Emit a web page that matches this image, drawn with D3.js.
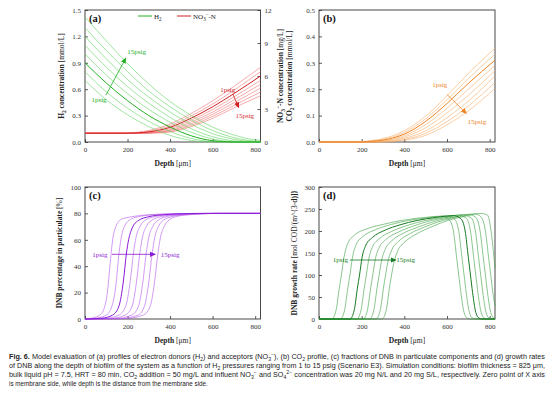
<!DOCTYPE html>
<html>
<head>
<meta charset="utf-8">
<script src="https://cdn.jsdelivr.net/npm/d3@7/dist/d3.min.js"></script>
<style>
body { margin: 0; background: #fff; }
svg text { font-family: "Liberation Serif", "Times New Roman", serif; }
</style>
</head>
<body>
<svg id="fig" width="554" height="394"></svg>
<script>
// values, pressures 1..15 psig (every 2 psig), bold = 5 psig
const pressures = [1, 3, 5, 7, 9, 11, 13, 15];
const boldIndex = 2;
const depthTicks = [0, 200, 400, 600, 800];

// (a) H2 [mmol/L]
const h2Depth = [0, 100, 200, 300, 400, 500, 600, 700, 800, 825];
const h2Curves = [
    [0.70, 0.48, 0.31, 0.175, 0.075, 0.018, 0, 0, 0, 0],
    [0.80, 0.57, 0.385, 0.235, 0.12, 0.04, 0.005, 0, 0, 0],
    [0.90, 0.67, 0.47, 0.30, 0.17, 0.07, 0.015, 0, 0, 0],
    [1.00, 0.76, 0.55, 0.37, 0.225, 0.11, 0.035, 0.003, 0, 0],
    [1.10, 0.85, 0.63, 0.44, 0.28, 0.15, 0.06, 0.012, 0, 0],
    [1.20, 0.945, 0.71, 0.51, 0.34, 0.20, 0.095, 0.03, 0.003, 0.001],
    [1.30, 1.04, 0.80, 0.58, 0.40, 0.25, 0.13, 0.05, 0.01, 0.006],
    [1.42, 1.15, 0.89, 0.66, 0.46, 0.30, 0.17, 0.08, 0.025, 0.02]
];

// (a) NO3-N [mg/L], right axis
const no3Depth = [0, 200, 250, 300, 350, 400, 500, 600, 700, 825];
const no3Curves = [
    [0.8, 0.82, 0.9, 1.05, 1.3, 1.65, 2.6, 3.75, 5.05, 6.8],
    [0.8, 0.81, 0.86, 0.98, 1.18, 1.48, 2.38, 3.45, 4.7, 6.4],
    [0.8, 0.8, 0.83, 0.92, 1.08, 1.34, 2.18, 3.2, 4.4, 6.0],
    [0.8, 0.8, 0.81, 0.87, 1.0, 1.22, 2.0, 2.95, 4.1, 5.6],
    [0.8, 0.8, 0.8, 0.84, 0.94, 1.12, 1.82, 2.72, 3.82, 5.25],
    [0.8, 0.8, 0.8, 0.82, 0.89, 1.04, 1.66, 2.52, 3.56, 4.9],
    [0.8, 0.8, 0.8, 0.81, 0.86, 0.97, 1.52, 2.33, 3.32, 4.55],
    [0.8, 0.8, 0.8, 0.8, 0.83, 0.91, 1.4, 2.15, 3.1, 4.2]
];

// (b) CO2 [mmol/L]
const co2Depth = [0, 150, 200, 250, 300, 350, 400, 500, 600, 700, 825];
const co2Curves = [
    [0, 0, 0.002, 0.006, 0.013, 0.025, 0.043, 0.098, 0.175, 0.26, 0.355],
    [0, 0, 0.001, 0.004, 0.010, 0.020, 0.036, 0.088, 0.160, 0.24, 0.333],
    [0, 0, 0, 0.003, 0.007, 0.016, 0.030, 0.078, 0.146, 0.222, 0.31],
    [0, 0, 0, 0.002, 0.005, 0.012, 0.024, 0.066, 0.128, 0.200, 0.29],
    [0, 0, 0, 0.001, 0.003, 0.009, 0.019, 0.054, 0.110, 0.177, 0.27],
    [0, 0, 0, 0, 0.002, 0.006, 0.014, 0.042, 0.092, 0.155, 0.25],
    [0, 0, 0, 0, 0.001, 0.004, 0.010, 0.033, 0.077, 0.136, 0.226],
    [0, 0, 0, 0, 0, 0.002, 0.007, 0.025, 0.065, 0.118, 0.203]
];

// (c) DNB percentage in particulate [%], [depth, value]
const dnbPctCurves = [
    [[0, 0], [40, 1], [70, 3], [90, 8], [105, 20], [120, 45], [130, 60], [145, 70], [170, 75.5], [220, 77.5], [300, 79], [400, 79.7], [550, 80], [825, 80]],
    [[0, 0], [60, 0.8], [100, 3], [125, 9], [145, 25], [160, 50], [172, 63], [188, 71], [215, 75.5], [260, 77.8], [330, 79], [430, 79.7], [560, 80], [825, 80]],
    [[0, 0], [80, 0.6], [130, 3], [160, 10], [180, 28], [195, 50], [205, 60], [222, 69], [250, 74.5], [300, 77.5], [370, 79], [460, 79.7], [580, 80], [825, 80]],
    [[0, 0], [100, 0.5], [160, 3], [192, 10], [212, 28], [228, 50], [240, 62], [258, 70], [285, 75], [335, 77.8], [400, 79], [490, 79.7], [600, 80], [825, 80]],
    [[0, 0], [120, 0.4], [190, 3], [222, 10], [242, 28], [258, 50], [270, 62], [288, 70], [315, 75], [365, 77.8], [430, 79], [510, 79.7], [610, 80], [825, 80]],
    [[0, 0], [140, 0.3], [220, 3], [252, 10], [272, 28], [288, 50], [300, 62], [318, 70], [345, 75], [390, 77.8], [450, 79], [530, 79.7], [620, 80], [825, 80]],
    [[0, 0], [160, 0.2], [250, 3], [280, 10], [300, 28], [316, 50], [328, 62], [345, 70], [370, 75], [415, 77.8], [470, 79], [545, 79.7], [630, 80], [825, 80]],
    [[0, 0], [180, 0.2], [275, 3], [307, 10], [327, 28], [343, 50], [355, 62], [372, 70], [395, 75], [435, 77.8], [490, 79], [560, 79.7], [640, 80], [825, 80]]
];

// (d) DNB growth rate [mol COD/(m3 d)], [depth, value]
const dnbRateCurves = [
    [[0, 0], [60, 0], [80, 20], [95, 70], [105, 100], [117, 140], [135, 172], [165, 190], [225, 205], [300, 215], [400, 225], [500, 231], [580, 234], [610, 226], [630, 200], [645, 140], [655, 100], [665, 60], [680, 15], [695, 2], [710, 0], [825, 0]],
    [[0, 0], [100, 0], [120, 20], [135, 70], [145, 100], [157, 140], [175, 170], [205, 187], [265, 203], [340, 215], [420, 224], [510, 230], [600, 234], [635, 227], [655, 200], [670, 140], [680, 100], [690, 60], [705, 15], [720, 2], [735, 0], [825, 0]],
    [[0, 0], [145, 0], [165, 20], [180, 70], [190, 100], [202, 140], [220, 168], [250, 185], [310, 202], [380, 214], [460, 224], [550, 231], [630, 235], [665, 228], [685, 200], [700, 140], [710, 100], [720, 60], [735, 15], [750, 2], [765, 0], [825, 0]],
    [[0, 0], [177, 0], [197, 20], [212, 70], [222, 100], [234, 138], [252, 165], [282, 182], [340, 199], [410, 212], [490, 223], [580, 231], [650, 236], [690, 229], [710, 200], [725, 140], [735, 100], [745, 60], [760, 15], [775, 2], [790, 0], [825, 0]],
    [[0, 0], [207, 0], [227, 20], [242, 70], [252, 100], [264, 136], [282, 162], [312, 180], [370, 197], [440, 211], [520, 223], [600, 231], [670, 237], [713, 230], [733, 200], [748, 140], [758, 100], [768, 60], [783, 15], [798, 2], [813, 0], [825, 0]],
    [[0, 0], [237, 0], [257, 20], [272, 70], [282, 100], [294, 134], [312, 160], [342, 178], [400, 196], [470, 210], [550, 223], [630, 232], [700, 238], [735, 231], [755, 200], [770, 140], [780, 100], [790, 60], [805, 15], [820, 2], [825, 1]],
    [[0, 0], [267, 0], [287, 20], [302, 70], [312, 100], [324, 132], [342, 158], [372, 176], [430, 195], [500, 210], [580, 224], [660, 233], [730, 239], [760, 232], [780, 200], [795, 140], [805, 100], [815, 60], [825, 30]],
    [[0, 0], [295, 0], [315, 20], [330, 70], [340, 100], [352, 130], [370, 156], [400, 174], [460, 194], [530, 210], [610, 225], [690, 234], [760, 240], [790, 236], [805, 205], [815, 165], [825, 115]]
];

const captionLines = [
    "*{Fig. 6.} Model evaluation of (a) profiles of electron donors (H_{2}) and acceptors (NO_{3}^{\u2212}), (b) CO_{2} profile, (c) fractions of DNB in particulate components and (d) growth rates",
    "of DNB along the depth of biofilm of the system as a function of H_{2} pressures ranging from 1 to 15 psig (Scenario E3). Simulation conditions: biofilm thickness = 825 \u03bcm,",
    "bulk liquid pH = 7.5, HRT = 80 min, CO_{2} addition = 50 mg/L and influent NO_{3}^{\u2212} and SO_{4}^{2\u2212} concentration was 20 mg N/L and 20 mg S/L, respectively. Zero point of X axis",
    "is membrane side, while depth is the distance from the membrane side."
];

const svg = d3.select('#fig');
const defs = svg.append('defs');

// *{bold} ~{normal} _{sub} ^{sup}
function rich(text, str, fs) {
    str.split(/(\*\{[^}]*\}|~\{[^}]*\}|_\{[^}]*\}|\^\{[^}]*\})/).filter(s => s).forEach(s => {
        const t = text.append('tspan');
        const tag = s.slice(0, 2);
        if (tag === '*{') t.attr('font-weight', 'bold').text(s.slice(2, -1));
        else if (tag === '~{') t.attr('font-weight', 'normal').text(s.slice(2, -1));
        else if (tag === '_{') t.attr('baseline-shift', -0.28 * fs).attr('font-size', fs * 0.72).text(s.slice(2, -1));
        else if (tag === '^{') t.attr('baseline-shift', 0.42 * fs).attr('font-size', fs * 0.72).text(s.slice(2, -1));
        else t.text(s);
    });
    return text;
}

function arrowMarker(id, color) {
    defs.append('marker')
        .attr('id', id)
        .attr('markerUnits', 'userSpaceOnUse')
        .attr('markerWidth', 6).attr('markerHeight', 6)
        .attr('refX', 5).attr('refY', 3)
        .attr('orient', 'auto')
        .append('path').attr('d', 'M0,0.4L6,3L0,5.6Z').attr('fill', color);
}

function makePanel(box, yDomain, yTicks, yFmt) {
    const g = svg.append('g');
    const x = d3.scaleLinear().domain([0, 825]).range([box.x0, box.x1]);
    const y = d3.scaleLinear().domain(yDomain).range([box.y1, box.y0]);

    const xa = g.append('g').attr('transform', `translate(0,${box.y1})`)
        .call(d3.axisBottom(x).tickValues(depthTicks).tickSize(-3).tickPadding(5.5));
    const ya = g.append('g').attr('transform', `translate(${box.x0},0)`)
        .call(d3.axisLeft(y).tickValues(yTicks).tickFormat(yFmt).tickSize(-3).tickPadding(4));
    [xa, ya].forEach(a => {
        a.select('.domain').remove();
        a.selectAll('line').attr('stroke', '#333').attr('stroke-width', 0.8);
        a.selectAll('text').attr('font-size', 7).attr('fill', '#333')
            .style('font-family', '"Liberation Serif", serif');
    });
    g.append('rect')
        .attr('x', box.x0).attr('y', box.y0)
        .attr('width', box.x1 - box.x0).attr('height', box.y1 - box.y0)
        .attr('fill', 'none').attr('stroke', '#333').attr('stroke-width', 0.9);

    rich(g.append('text')
        .attr('x', (box.x0 + box.x1) / 2).attr('y', box.y1 + 23.5)
        .attr('text-anchor', 'middle').attr('font-size', 7.5).attr('fill', '#222'),
        '*{Depth} [\u03bcm]', 7.5);
    return { g, x, y };
}

function yTitle(xPos, box, str) {
    const cy = (box.y0 + box.y1) / 2;
    rich(svg.append('text')
        .attr('transform', `translate(${xPos},${cy}) rotate(-90)`)
        .attr('text-anchor', 'middle').attr('font-size', 7.5)
        .attr('font-weight', 'bold').attr('fill', '#222'), str, 7.5);
}

function panelLabel(p, box, str) {
    p.g.append('text').attr('x', box.x0 + 4).attr('y', box.y0 + 12)
        .attr('font-size', 10.5).attr('font-weight', 'bold').attr('fill', '#111').text(str);
}

function drawCurves(g, curves, line, thin, bold) {
    const order = d3.range(curves.length).filter(i => i !== boldIndex).concat([boldIndex]);
    order.forEach(i => {
        g.append('path').datum(curves[i])
            .attr('d', line)
            .attr('fill', 'none')
            .attr('stroke', i === boldIndex ? bold : thin)
            .attr('stroke-width', i === boldIndex ? 1.0 : 0.6);
    });
}

function annotate(p, xs, ys, from, to, lab1, lab2, color, markerId) {
    p.g.append('line')
        .attr('x1', xs(from[0])).attr('y1', ys(from[1]))
        .attr('x2', xs(to[0])).attr('y2', ys(to[1]))
        .attr('stroke', color).attr('stroke-width', 0.8)
        .attr('marker-end', `url(#${markerId})`);
    [lab1, lab2].forEach(l => {
        p.g.append('text').attr('x', xs(l[0])).attr('y', ys(l[1]))
            .attr('dy', '0.35em').attr('text-anchor', 'middle')
            .attr('font-size', 7).attr('fill', color).text(l[2]);
    });
}

const boxA = { x0: 85, x1: 260.5, y0: 10, y1: 142 };
const boxB = { x0: 319, x1: 495, y0: 10, y1: 142 };
const boxC = { x0: 85, x1: 260.5, y0: 187, y1: 319 };
const boxD = { x0: 319, x1: 495, y0: 187, y1: 319 };

const colH2 = ['#5fd35f', '#22b022'];
const colNO3 = ['#f27272', '#d21f1f'];
const colCO2 = ['#f6ac66', '#ee8424'];
const colPct = ['#b558ee', '#8a1ad6'];
const colRate = ['#3aa040', '#177a22'];
arrowMarker('arH2', colH2[1]);
arrowMarker('arNO3', colNO3[1]);
arrowMarker('arCO2', colCO2[1]);
arrowMarker('arPct', colPct[1]);
arrowMarker('arRate', colRate[1]);

const fmt1 = d3.format('.1f');

// (a)
const pa = makePanel(boxA, [0, 1.5], [0, 0.3, 0.6, 0.9, 1.2, 1.5], fmt1);
const yR = d3.scaleLinear().domain([0, 12]).range([boxA.y1, boxA.y0]);
const ra = pa.g.append('g').attr('transform', `translate(${boxA.x1},0)`)
    .call(d3.axisRight(yR).tickValues([0, 3, 6, 9, 12]).tickSize(-3).tickPadding(4));
ra.select('.domain').remove();
ra.selectAll('line').attr('stroke', '#333').attr('stroke-width', 0.8);
ra.selectAll('text').attr('font-size', 7).attr('fill', '#333');

const lineH2 = d3.line().x((d, i) => pa.x(h2Depth[i])).y(d => pa.y(d)).curve(d3.curveMonotoneX);
const lineNO3 = d3.line().x((d, i) => pa.x(no3Depth[i])).y(d => yR(d)).curve(d3.curveMonotoneX);
drawCurves(pa.g, no3Curves, lineNO3, colNO3[0], colNO3[1]);
drawCurves(pa.g, h2Curves, lineH2, colH2[0], colH2[1]);
panelLabel(pa, boxA, '(a)');
annotate(pa, pa.x, pa.y, [99, 0.534], [191, 0.95], [66, 0.485, '1psig'], [243, 1.03, '15psig'], colH2[1], 'arH2');
annotate(pa, pa.x, yR, [695, 4.36], [722, 3.15], [671, 4.79, '1psig'], [751, 2.45, '15psig'], colNO3[1], 'arNO3');

// legend
const leg = [
    { x: 138, col: colH2[1], label: 'H_{2}' },
    { x: 177, col: colNO3[1], label: 'NO_{3}^{\u2212}-N' }
];
leg.forEach(l => {
    pa.g.append('line').attr('x1', l.x).attr('x2', l.x + 14).attr('y1', 16).attr('y2', 16)
        .attr('stroke', l.col).attr('stroke-width', 1);
    rich(pa.g.append('text').attr('x', l.x + 16).attr('y', 18.5).attr('font-size', 7).attr('fill', '#222'), l.label, 7);
});

yTitle(64, boxA, 'H_{2} concentration ~{[mmol/L]}');
yTitle(283, boxA, 'NO_{3}^{\u2212}-N concentration ~{[mg/L]}');

// (b)
const pb = makePanel(boxB, [0, 0.5], [0, 0.1, 0.2, 0.3, 0.4, 0.5], fmt1);
const lineCO2 = d3.line().x((d, i) => pb.x(co2Depth[i])).y(d => pb.y(d)).curve(d3.curveMonotoneX);
drawCurves(pb.g, co2Curves, lineCO2, colCO2[0], colCO2[1]);
panelLabel(pb, boxB, '(b)');
annotate(pb, pb.x, pb.y, [600, 0.18], [690, 0.109], [566, 0.218, '1psig'], [740, 0.077, '15psig'], colCO2[1], 'arCO2');
yTitle(292, boxB, 'CO_{2} concentration ~{[mmol/L]}');

// (c)
const pc = makePanel(boxC, [0, 100], [0, 20, 40, 60, 80, 100], d3.format('d'));
const linePair = p => d3.line().x(d => p.x(d[0])).y(d => p.y(d[1])).curve(d3.curveMonotoneX);
drawCurves(pc.g, dnbPctCurves, linePair(pc), colPct[0], colPct[1]);
panelLabel(pc, boxC, '(c)');
annotate(pc, pc.x, pc.y, [127, 49], [329, 49], [70, 49, '1psig'], [400, 49, '15psig'], colPct[1], 'arPct');
yTitle(62, boxC, 'DNB percentage in particulate ~{[%]}');

// (d)
const pd = makePanel(boxD, [0, 300], [0, 50, 100, 150, 200, 250, 300], d3.format('d'));
drawCurves(pd.g, dnbRateCurves, linePair(pd), colRate[0], colRate[1]);
panelLabel(pd, boxD, '(d)');
annotate(pd, pd.x, pd.y, [144, 134], [359, 134], [100, 134, '1psig'], [406, 134, '15psig'], colRate[1], 'arRate');
yTitle(297, boxD, 'DNB growth rate ~{[mol COD/(m^{3}\u00b7d)]}');

// caption
captionLines.forEach((str, i) => {
    const t = svg.append('text')
        .attr('x', 9).attr('y', 359 + i * 9)
        .attr('font-size', 6.3).attr('fill', '#222')
        .style('font-family', '"Liberation Sans", Arial, sans-serif');
    if (i < captionLines.length - 1) t.attr('textLength', 536).attr('lengthAdjust', 'spacingAndGlyphs');
    rich(t, str, 6.3);
});
</script>
</body>
</html>
